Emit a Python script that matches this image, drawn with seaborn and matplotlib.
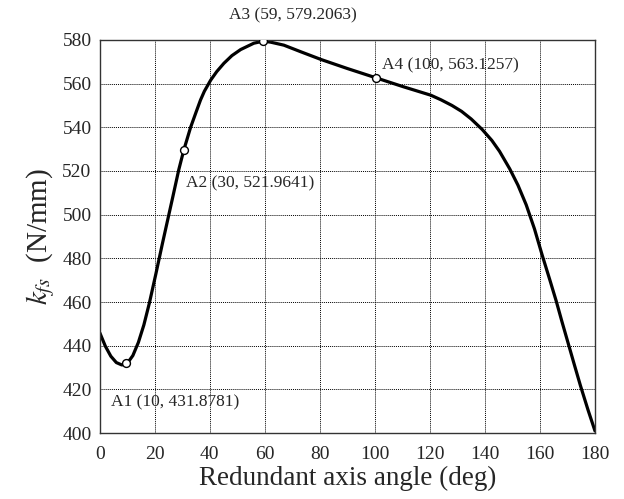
import pandas as pd
import seaborn as sns
import matplotlib.pyplot as plt

# curve
angle = [0, 2, 4, 6, 8, 10, 12, 14, 16, 18, 20.3, 22.7, 24.5, 26.5, 28.7, 30.5, 33, 35,
         36.6, 38, 40.3, 42.5, 45.1, 48, 51.2, 56, 59.3, 62, 66.9, 73, 80.5, 90, 100.5,
         110.5, 120.3, 124, 128, 131.5, 135, 139, 142.5, 145.3, 149, 152, 155, 158, 160.8,
         163.5, 165.9, 168, 170.4, 172.5, 174.7, 177.5, 180]
kfs = [445.9, 439.8, 435.2, 432.3, 431.2, 432, 435.5, 441.5, 449.5, 459.5, 472.5, 486.5,
       496.7, 508, 520.6, 529.5, 540, 547, 552.5, 556.5, 561.6, 565.5, 569.3, 572.8, 575.6,
       578.5, 579.4, 579, 577.6, 574.6, 571, 566.9, 562.6, 558.5, 554.7, 552.6, 550, 547.3,
       543.8, 539, 534, 529, 521, 513.5, 504.5, 493.5, 481.5, 470.5, 460.5, 451, 440.5,
       431.3, 421.8, 410.5, 401]

# highlighted points and their labels
mark_x = [9.6, 30.5, 59.3, 100.4]
mark_y = [431.9, 529.5, 579.4, 562.6]
mark_labels = ["A1 (10, 431.8781)", "A2 (30, 521.9641)", "A3 (59, 579.2063)", "A4 (100, 563.1257)"]

df = pd.DataFrame({"angle": angle, "kfs": kfs})
pts = pd.DataFrame({"angle": mark_x, "kfs": mark_y})

sns.set_style("white")
plt.rcParams["font.family"] = ["Liberation Serif", "DejaVu Serif"]
plt.rcParams["mathtext.fontset"] = "stix"

fig = plt.figure(figsize=(6.24, 4.99), dpi=100)
ax = fig.add_axes([0.160, 0.132, 0.7935, 0.788])

sns.lineplot(data=df, x="angle", y="kfs", ax=ax, color="black", linewidth=2.3)
sns.scatterplot(data=pts, x="angle", y="kfs", ax=ax, s=32, color="white",
                edgecolor="black", linewidth=1, zorder=5)

ax.set_xlim(0, 180)
ax.set_ylim(400, 580)
ax.set_xticks(range(0, 181, 20))
ax.set_yticks(range(400, 581, 20))
ax.grid(True, color="black", linestyle=(0, (1, 1)), linewidth=0.7)
ax.tick_params(axis="x", labelsize=14, length=0, pad=9)
ax.tick_params(axis="y", labelsize=14, length=0, pad=6)
for sp in ax.spines.values():
    sp.set_color("#333333")
    sp.set_linewidth(1.0)

ax.set_xlabel("Redundant axis angle (deg)", fontsize=19.5, labelpad=2)
ax.set_ylabel(r"$k_{fs}$  (N/mm)", fontsize=21, labelpad=4)

# label placement
offsets = [(4, 414.3, "left"), (31.5, 514.3, "left"), (70, 591, "center"), (102.4, 568.5, "left")]
for lab, (tx, ty, ha) in zip(mark_labels, offsets):
    ax.text(tx, ty, lab, fontsize=12.5, ha=ha, va="center", clip_on=False)

fig.savefig("out.png", dpi=100)
